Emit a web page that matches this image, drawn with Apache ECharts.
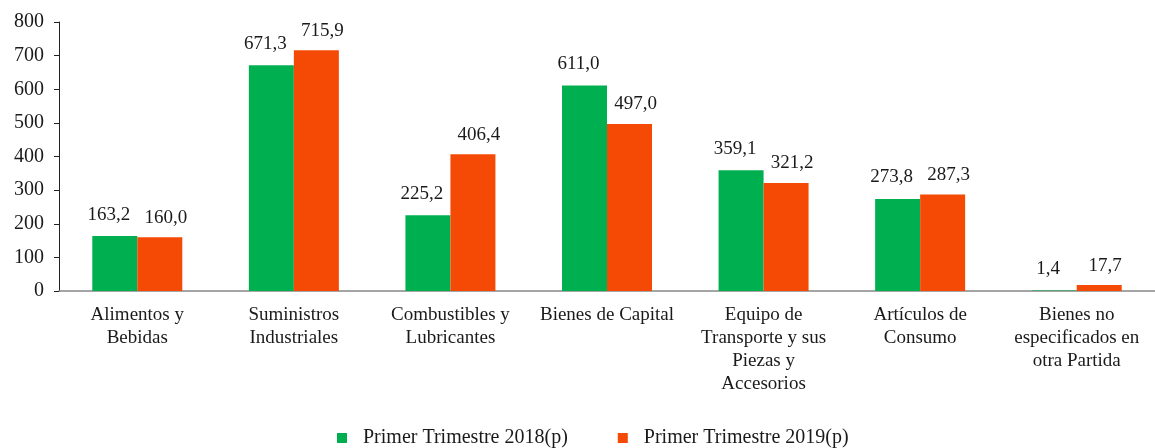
<!DOCTYPE html>
<html>
<head>
<meta charset="utf-8">
<script src="https://cdn.jsdelivr.net/npm/echarts@6/dist/echarts.min.js"></script>
<style>
  html, body { margin: 0; padding: 0; background: #fff; }
  #chart { width: 1155px; height: 448px; }
</style>
</head>
<body>
<div id="chart"></div>
<script>
var categories = [
  'Alimentos y\nBebidas',
  'Suministros\nIndustriales',
  'Combustibles y\nLubricantes',
  'Bienes de Capital',
  'Equipo de\nTransporte y sus\nPiezas y\nAccesorios',
  'Artículos de\nConsumo',
  'Bienes no\nespecificados en\notra Partida'
]
var values2018 = [163.2, 671.3, 225.2, 611.0, 359.1, 273.8, 1.4]
var values2019 = [160.0, 715.9, 406.4, 497.0, 321.2, 287.3, 17.7]
var seriesNames = ['Primer Trimestre 2018(p)', 'Primer Trimestre 2019(p)']

var font = 'Liberation Serif'
var fmt = function (p) { return p.value.toFixed(1).replace('.', ',') }

var myChart = echarts.init(document.getElementById('chart'))
myChart.setOption({
  animation: false,
  textStyle: { fontFamily: font },
  legend: {
    top: 428,
    left: 337,
    padding: 0,
    itemWidth: 10,
    itemHeight: 10,
    itemGap: 50,
    icon: 'rect',
    textStyle: { fontFamily: font, fontSize: 20, color: '#1a1a1a', padding: [0, 0, 0, 11] },
    data: seriesNames
  },
  grid: { left: 59, top: 22, width: 1106, height: 269 },
  xAxis: {
    type: 'category',
    data: categories,
    axisLine: { lineStyle: { color: '#888', width: 1.5 } },
    axisTick: { show: false },
    axisLabel: { fontFamily: font, fontSize: 19, color: '#1a1a1a', lineHeight: 23, margin: 13, interval: 0 }
  },
  yAxis: {
    type: 'value',
    min: 0,
    max: 800,
    interval: 100,
    splitLine: { show: false },
    axisLine: { show: true, lineStyle: { color: '#222' } },
    axisTick: { show: true, length: 5, lineStyle: { color: '#222' } },
    axisLabel: { fontFamily: font, fontSize: 20, color: '#1a1a1a', margin: 15 }
  },
  series: [
    {
      name: seriesNames[0],
      type: 'bar',
      data: values2018,
      barWidth: 45,
      barGap: '0%',
      itemStyle: { color: '#00b050' },
      label: { show: true, position: 'top', distance: 12, offset: [-6, 0], fontFamily: font, fontSize: 19, color: '#1a1a1a', formatter: fmt }
    },
    {
      name: seriesNames[1],
      type: 'bar',
      data: values2019,
      barWidth: 45,
      barGap: '0%',
      itemStyle: { color: '#f44a06' },
      label: { show: true, position: 'top', distance: 10, offset: [6, 0], fontFamily: font, fontSize: 19, color: '#1a1a1a', formatter: fmt }
    }
  ]
})
</script>
</body>
</html>
